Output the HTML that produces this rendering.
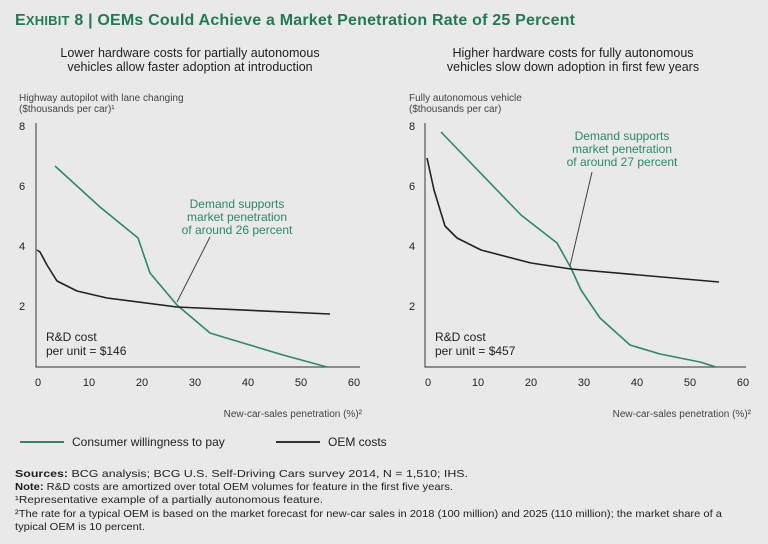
<!DOCTYPE html>
<html><head><meta charset="utf-8"><style>
body{margin:0;width:768px;height:544px;background:#e9e9e9;font-family:"Liberation Sans",sans-serif;overflow:hidden}
svg{position:absolute;left:0;top:0}
</style></head><body>
<svg width="768" height="544" viewBox="0 0 768 544" font-family="Liberation Sans, sans-serif">
<text x="15" y="25" font-size="16" font-weight="bold" fill="#1f7a57" textLength="560">E<tspan font-size="13">XHIBIT</tspan> 8 | OEMs Could Achieve a Market Penetration Rate of 25 Percent</text>
<g font-size="12.5" fill="#222" text-anchor="middle">
<text x="190" y="57">Lower hardware costs for partially autonomous</text>
<text x="190" y="71">vehicles allow faster adoption at introduction</text>
<text x="573" y="57">Higher hardware costs for fully autonomous</text>
<text x="573" y="71">vehicles slow down adoption in first few years</text>
</g>
<g font-size="10" fill="#444">
<text x="19" y="101">Highway autopilot with lane changing</text>
<text x="19" y="112">($thousands per car)¹</text>
<text x="409" y="101">Fully autonomous vehicle</text>
<text x="409" y="112">($thousands per car)</text>
</g>
<g font-size="11" fill="#222" text-anchor="middle">
<text x="22" y="130">8</text><text x="22" y="190">6</text><text x="22" y="250">4</text><text x="22" y="310">2</text>
<text x="412" y="130">8</text><text x="412" y="190">6</text><text x="412" y="250">4</text><text x="412" y="310">2</text>
<text x="38" y="386">0</text><text x="89" y="386">10</text><text x="142" y="386">20</text><text x="195" y="386">30</text><text x="248" y="386">40</text><text x="301" y="386">50</text><text x="354" y="386">60</text>
<text x="428" y="386">0</text><text x="478" y="386">10</text><text x="531" y="386">20</text><text x="584" y="386">30</text><text x="637" y="386">40</text><text x="690" y="386">50</text><text x="743" y="386">60</text>
</g>
<g font-size="10" fill="#444" text-anchor="end">
<text x="362" y="417">New-car-sales penetration (%)²</text>
<text x="751" y="417">New-car-sales penetration (%)²</text>
</g>
<g stroke="#555" stroke-width="1.2" fill="none">
<path d="M36 123V367H360"/>
<path d="M425 123V367H746"/>
</g>
<g fill="none" stroke-width="1.6" stroke-linejoin="round">
<path stroke="#2a8a68" d="M55 166L100 207L138 238L150 273L177 305L210 333L233 340L283 355L327 367"/>
<path stroke="#222" d="M37 250L40 252L47 265L57 281L77 291L107 298L177 307L330 314"/>
<path stroke="#2a8a68" d="M441 132L521 215L557 243L571 268L581 290L600 318L630 345L660 354L700 362L716 367"/>
<path stroke="#222" d="M427 158L434 190L445 226L457 238L481 250L531 263L571 269L719 282"/>
</g>
<g stroke="#444" stroke-width="1"><path d="M210 237L177 302"/><path d="M592 172L570 266"/></g>
<g font-size="12" fill="#2a8a68" text-anchor="middle">
<text x="237" y="208">Demand supports</text><text x="237" y="221">market penetration</text><text x="237" y="234">of around 26 percent</text>
<text x="622" y="140">Demand supports</text><text x="622" y="153">market penetration</text><text x="622" y="166">of around 27 percent</text>
</g>
<g font-size="12" fill="#222">
<text x="46" y="341">R&amp;D cost</text><text x="46" y="355">per unit = $146</text>
<text x="435" y="341">R&amp;D cost</text><text x="435" y="355">per unit = $457</text>
</g>
<path d="M20 442H64" stroke="#2a8a68" stroke-width="2"/>
<path d="M276 442H320" stroke="#333" stroke-width="2"/>
<g font-size="12" fill="#222"><text x="72" y="446">Consumer willingness to pay</text><text x="328" y="446">OEM costs</text></g>
<g font-size="10.5" fill="#222" lengthAdjust="spacingAndGlyphs">
<text x="15" y="477" textLength="453" lengthAdjust="spacingAndGlyphs"><tspan font-weight="bold">Sources:</tspan> BCG analysis; BCG U.S. Self-Driving Cars survey 2014, N = 1,510; IHS.</text>
<text x="15" y="490" textLength="438" lengthAdjust="spacingAndGlyphs"><tspan font-weight="bold">Note:</tspan> R&amp;D costs are amortized over total OEM volumes for feature in the first five years.</text>
<text x="15" y="503" textLength="308" lengthAdjust="spacingAndGlyphs">¹Representative example of a partially autonomous feature.</text>
<text x="15" y="517" textLength="707" lengthAdjust="spacingAndGlyphs">²The rate for a typical OEM is based on the market forecast for new-car sales in 2018 (100 million) and 2025 (110 million); the market share of a</text>
<text x="15" y="530" textLength="130" lengthAdjust="spacingAndGlyphs">typical OEM is 10 percent.</text>
</g>
</svg>
</body></html>
